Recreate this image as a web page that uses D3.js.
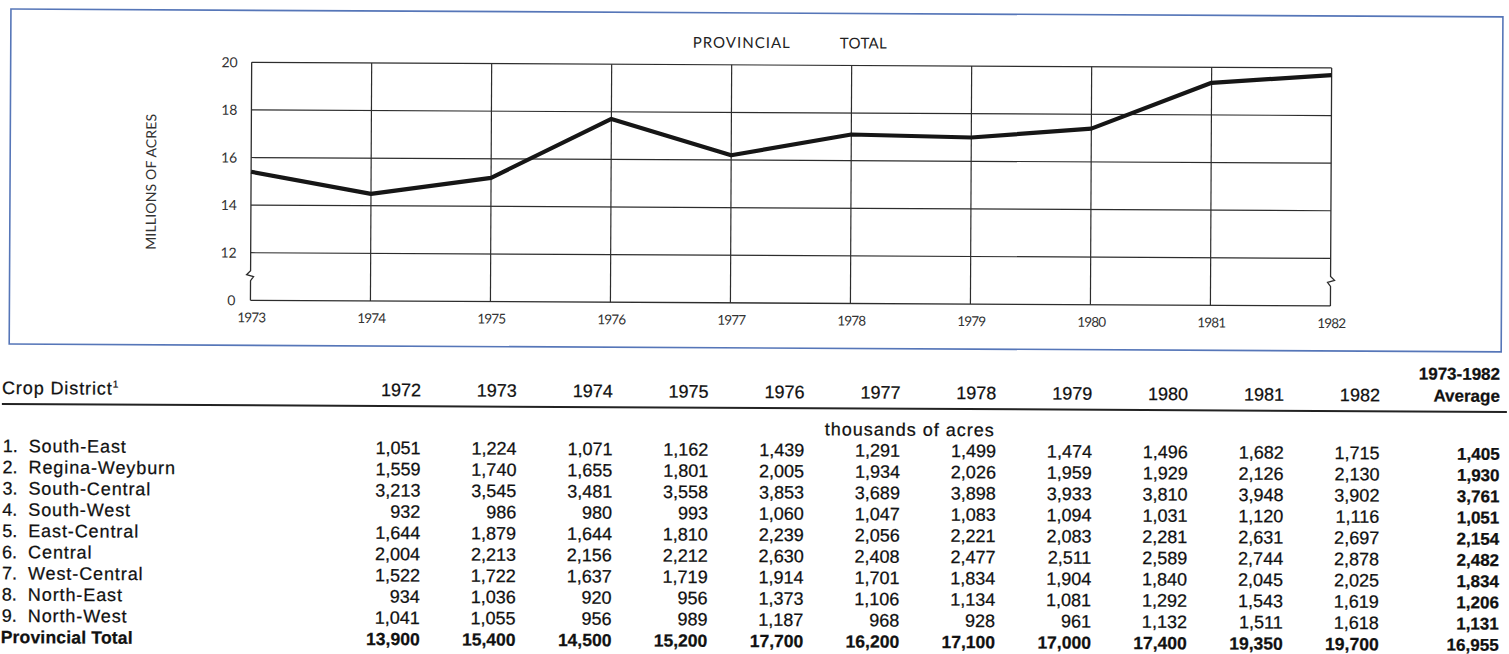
<!DOCTYPE html>
<html>
<head>
<meta charset="utf-8">
<script src="https://cdn.jsdelivr.net/npm/d3@7"></script>
<style>
  html, body { margin: 0; padding: 0; background: #fff; }
  svg { display: block; }
</style>
</head>
<body>
<svg id="chart" width="1509" height="654"></svg>
<script>
// Seeded acreage by crop district, thousands of acres
const years = [1972, 1973, 1974, 1975, 1976, 1977, 1978, 1979, 1980, 1981, 1982];
const districts = [
  "South-East", "Regina-Weyburn", "South-Central", "South-West", "East-Central",
  "Central", "West-Central", "North-East", "North-West"
];
const southEast     = [1051, 1224, 1071, 1162, 1439, 1291, 1499, 1474, 1496, 1682, 1715];
const reginaWeyburn = [1559, 1740, 1655, 1801, 2005, 1934, 2026, 1959, 1929, 2126, 2130];
const southCentral  = [3213, 3545, 3481, 3558, 3853, 3689, 3898, 3933, 3810, 3948, 3902];
const southWest     = [932, 986, 980, 993, 1060, 1047, 1083, 1094, 1031, 1120, 1116];
const eastCentral   = [1644, 1879, 1644, 1810, 2239, 2056, 2221, 2083, 2281, 2631, 2697];
const central       = [2004, 2213, 2156, 2212, 2630, 2408, 2477, 2511, 2589, 2744, 2878];
const westCentral   = [1522, 1722, 1637, 1719, 1914, 1701, 1834, 1904, 1840, 2045, 2025];
const northEast     = [934, 1036, 920, 956, 1373, 1106, 1134, 1081, 1292, 1543, 1619];
const northWest     = [1041, 1055, 956, 989, 1187, 968, 928, 961, 1132, 1511, 1618];
const provincialTotal = [13900, 15400, 14500, 15200, 17700, 16200, 17100, 17000, 17400, 19350, 19700];
const averages = [1405, 1930, 3761, 1051, 2154, 2482, 1834, 1206, 1131];
const totalAverage = 16955;

// Chart: provincial total, 1973-1982, in millions of acres
const chartYears = years.slice(1);
const chartValues = provincialTotal.slice(1).map(v => v / 1000);
const yTicks = [12, 14, 16, 18, 20];
const yBaseLabel = "0";

const districtRows = [southEast, reginaWeyburn, southCentral, southWest, eastCentral,
                      central, westCentral, northEast, northWest];

const svg = d3.select("#chart");
// the printed page sits very slightly turned
const root = svg.append("g").attr("transform", "rotate(0.3)");

const chartFont = "Lato, 'Noto Sans', sans-serif";
const tableFont = "'Liberation Sans', Arial, Helvetica, sans-serif";

// ---------- framed chart ----------
root.append("rect")
  .attr("x", 11).attr("y", 9).attr("width", 1492).attr("height", 335)
  .attr("fill", "none").attr("stroke", "#5676b8").attr("stroke-width", 1.6);

const x = d3.scaleLinear().domain([1973, 1982]).range([252, 1332]);
const y = d3.scaleLinear().domain([10, 20]).range([299, 61]);

const plot = root.append("g");
const grid = "#2d2d2d";

// horizontal grid lines
plot.selectAll("line.h").data(yTicks).join("line")
  .attr("x1", x(1973)).attr("x2", x(1982))
  .attr("y1", d => y(d)).attr("y2", d => y(d))
  .attr("stroke", grid).attr("stroke-width", 1.2);
// base line
plot.append("line")
  .attr("x1", x(1973)).attr("x2", x(1982))
  .attr("y1", y(10)).attr("y2", y(10))
  .attr("stroke", grid).attr("stroke-width", 1.3);

// inner vertical grid lines
plot.selectAll("line.v").data(chartYears.slice(1, -1)).join("line")
  .attr("x1", d => x(d)).attr("x2", d => x(d))
  .attr("y1", y(20)).attr("y2", y(10))
  .attr("stroke", grid).attr("stroke-width", 1.2);

// side axes with break marks between 12 and 0
const breakTop = y(12) + 18;
function brokenAxis(x0, dir) {
  const p = d3.path();
  p.moveTo(x0, y(20));
  p.lineTo(x0, breakTop);
  p.lineTo(x0 - 4 * dir, breakTop + 4);
  p.lineTo(x0 + 3 * dir, breakTop + 6);
  p.lineTo(x0, breakTop + 10);
  p.lineTo(x0, y(10));
  return p.toString();
}
plot.append("path").attr("d", brokenAxis(x(1973), 1))
  .attr("fill", "none").attr("stroke", grid).attr("stroke-width", 1.3);
plot.append("path").attr("d", brokenAxis(x(1982), -1))
  .attr("fill", "none").attr("stroke", grid).attr("stroke-width", 1.3);

// y tick labels
plot.selectAll("text.yt").data(yTicks).join("text")
  .attr("x", 238).attr("y", d => y(d)).attr("dy", "0.36em")
  .attr("text-anchor", "end")
  .attr("font-family", chartFont).attr("font-size", 14).attr("fill", "#333")
  .text(d => d);
plot.append("text")
  .attr("x", 237).attr("y", y(10)).attr("dy", "0.36em")
  .attr("text-anchor", "end")
  .attr("font-family", chartFont).attr("font-size", 14).attr("fill", "#333")
  .text(yBaseLabel);

// x tick labels
plot.selectAll("text.xt").data(chartYears).join("text")
  .attr("x", d => x(d) + 1).attr("y", 321)
  .attr("text-anchor", "middle")
  .attr("font-family", chartFont).attr("font-size", 13.5).attr("fill", "#333")
  .attr("letter-spacing", "-0.8")
  .text(d => d);

// titles
plot.append("text")
  .attr("x", 693).attr("y", 44)
  .attr("font-family", chartFont).attr("font-size", 15).attr("fill", "#222")
  .attr("textLength", 97).attr("lengthAdjust", "spacing")
  .text("PROVINCIAL");
plot.append("text")
  .attr("x", 840).attr("y", 44)
  .attr("font-family", chartFont).attr("font-size", 15).attr("fill", "#222")
  .attr("textLength", 47).attr("lengthAdjust", "spacing")
  .text("TOTAL");

plot.append("text")
  .attr("transform", "translate(157,181) rotate(-90)")
  .attr("text-anchor", "middle")
  .attr("font-family", chartFont).attr("font-size", 14).attr("fill", "#333")
  .attr("textLength", 136).attr("lengthAdjust", "spacing")
  .text("MILLIONS OF ACRES");

// the provincial total line
const line = d3.line().x((d, i) => x(chartYears[i])).y(d => y(d));
plot.append("path")
  .datum(chartValues)
  .attr("d", line)
  .attr("fill", "none").attr("stroke", "#161616")
  .attr("stroke-width", 4.2).attr("stroke-linejoin", "round").attr("stroke-linecap", "butt");

// ---------- table ----------
const tbl = root.append("g").attr("font-family", tableFont)
  .attr("fill", "#111").attr("stroke", "#111").attr("stroke-width", 0.25);
const colX = d3.scaleLinear().domain([1972, 1982]).range([423, 1382]);
const avgX = 1502;
const headerBase = 394;
const rowY = d3.scaleLinear().domain([0, 9]).range([452, 643]);
const fs = 18;
const fmt = d3.format(",");

const head = tbl.append("text").attr("x", 4).attr("y", headerBase)
  .attr("font-size", fs).attr("letter-spacing", "0.9");
head.append("tspan").text("Crop District");
head.append("tspan").attr("font-size", 10).attr("dy", -7).attr("letter-spacing", "0").text("1");

tbl.selectAll("text.yr").data(years).join("text")
  .attr("x", d => colX(d)).attr("y", headerBase)
  .attr("text-anchor", "end").attr("font-size", fs)
  .text(d => d);

tbl.append("text").attr("x", avgX).attr("y", 372)
  .attr("text-anchor", "end").attr("font-size", 17).attr("font-weight", "bold")
  .text("1973-1982");
tbl.append("text").attr("x", avgX).attr("y", headerBase)
  .attr("text-anchor", "end").attr("font-size", 17).attr("font-weight", "bold")
  .text("Average");

tbl.append("line")
  .attr("x1", 4).attr("x2", 1509).attr("y1", 404).attr("y2", 404)
  .attr("stroke", "#222").attr("stroke-width", 2);

tbl.append("text").attr("x", 912).attr("y", 431)
  .attr("text-anchor", "middle").attr("font-size", fs).attr("letter-spacing", "1")
  .text("thousands of acres");

// district rows
districtRows.forEach((vals, r) => {
  const g = tbl.append("g");
  g.append("text").attr("x", 5).attr("y", rowY(r))
    .attr("font-size", fs).text((r + 1) + ".");
  g.append("text").attr("x", 31).attr("y", rowY(r))
    .attr("font-size", fs).attr("letter-spacing", "0.9")
    .text(districts[r]);
  g.selectAll("text.v").data(vals).join("text")
    .attr("x", (d, i) => colX(years[i])).attr("y", rowY(r))
    .attr("text-anchor", "end").attr("font-size", fs)
    .text(d => fmt(d));
  g.append("text").attr("x", avgX).attr("y", rowY(r))
    .attr("text-anchor", "end").attr("font-size", 17).attr("font-weight", "bold")
    .text(fmt(averages[r]));
});

// provincial total row
const tg = tbl.append("g").attr("font-weight", "bold");
tg.append("text").attr("x", 4).attr("y", rowY(9))
  .attr("font-size", 17.5).attr("letter-spacing", "0.2")
  .text("Provincial Total");
tg.selectAll("text.v").data(provincialTotal).join("text")
  .attr("x", (d, i) => colX(years[i])).attr("y", rowY(9))
  .attr("text-anchor", "end").attr("font-size", 17.5)
  .text(d => fmt(d));
tg.append("text").attr("x", avgX).attr("y", rowY(9))
  .attr("text-anchor", "end").attr("font-size", 17)
  .text(fmt(totalAverage));
</script>
</body>
</html>
